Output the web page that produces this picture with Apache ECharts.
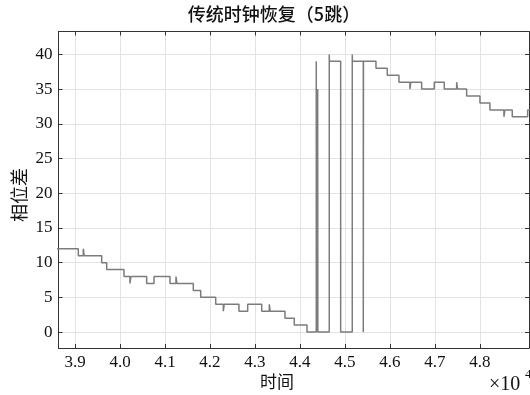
<!DOCTYPE html>
<html><head><meta charset="utf-8">
<script src="https://cdn.jsdelivr.net/npm/echarts@6/dist/echarts.min.js"></script>
<style>html,body{margin:0;padding:0;background:#fff}#c{width:530px;height:395px}</style>
</head><body><div id="c"></div>
<script>
const titleText = '传统时钟恢复（5跳）';
const xName = '时间';
const yName = '相位差';
// time in units of 10^4
const times = [3.860, 3.9073, 3.9184, 3.9204, 3.9593, 3.9704, 4.0089, 4.0222, 4.0242, 4.0593,
  4.0756, 4.1111, 4.1244, 4.1264, 4.1629, 4.1793, 4.2127, 4.2296, 4.2316, 4.2644,
  4.2838, 4.3149, 4.3318, 4.3338, 4.3667, 4.3873, 4.4156, 4.4362, 4.4366, 4.4393,
  4.4397, 4.4651, 4.4655, 4.4904, 4.5162, 4.5166, 4.5407, 4.5411, 4.5689, 4.5940,
  4.6200, 4.6444, 4.6464, 4.6704, 4.6984, 4.7207, 4.7482, 4.7502, 4.7704, 4.8000,
  4.8222, 4.8533, 4.8553, 4.8718, 4.9060, 4.920];
const values = [12, 11, 12, 11, 10, 9, 8, 7, 8, 7,
  8, 7, 8, 7, 6, 5, 4, 3, 4, 3,
  4, 3, 4, 3, 2, 1, 0, 39, 0, 35,
  0, 40, 39, 0, 40, 39, 0, 39, 38, 37,
  36, 35, 36, 35, 36, 35, 36, 35, 34, 33,
  32, 31, 32, 31, 32, 32];
const xTicks = [3.9, 4.0, 4.1, 4.2, 4.3, 4.4, 4.5, 4.6, 4.7, 4.8];
const yTicks = [0, 5, 10, 15, 20, 25, 30, 35, 40];

const xMin = 3.8633, xMax = 4.909, yMin = -2.3, yMax = 43.3;
const axisColor = '#333';
const gridColor = '#e3e3e3';
const numFont = 'Liberation Serif';
const cjkFont = 'Noto Sans CJK SC';

function xAxisBase(pos, showLabel) {
  return {
    type: 'value', position: pos, min: xMin, max: xMax,
    axisLine: {show: true, onZero: false, lineStyle: {color: axisColor, width: 1}},
    axisTick: {show: true, inside: true, length: 4, customValues: xTicks, lineStyle: {color: axisColor}},
    axisLabel: {show: showLabel, customValues: xTicks, margin: 6, color: '#111', fontFamily: numFont, fontSize: 17,
      formatter: v => v.toFixed(1)},
    splitLine: {show: showLabel, lineStyle: {color: gridColor, width: 1}}
  };
}
function yAxisBase(pos, showLabel) {
  return {
    type: 'value', position: pos, min: yMin, max: yMax,
    axisLine: {show: true, onZero: false, lineStyle: {color: axisColor, width: 1}},
    axisTick: {show: true, inside: true, length: 4, customValues: yTicks, lineStyle: {color: axisColor}},
    axisLabel: {show: showLabel, customValues: yTicks, margin: 6, color: '#111', fontFamily: numFont, fontSize: 17,
      formatter: v => String(v)},
    splitLine: {show: showLabel, lineStyle: {color: gridColor, width: 1}}
  };
}

const chart = echarts.init(document.getElementById('c'), null, {renderer: 'canvas'});
chart.setOption({
  animation: false,
  backgroundColor: '#fff',
  grid: {left: 58.5, right: 1, top: 31.5, bottom: 47, containLabel: false},
  xAxis: [xAxisBase('bottom', true), xAxisBase('top', false)],
  yAxis: [yAxisBase('left', true), yAxisBase('right', false)],
  series: [{
    type: 'line', step: 'end', showSymbol: false, symbol: 'none',
    clip: true,
    lineStyle: {color: '#7c7c7c', width: 1.5},
    data: times.map((t, i) => [t, values[i]])
  }],
  graphic: [
    {type: 'text', x: 274, y: 14, style: {text: titleText, font: '500 18px "' + cjkFont + '"', fill: '#111', align: 'center', verticalAlign: 'middle'}},
    {type: 'text', x: 277, y: 382, style: {text: xName, font: '17px "' + cjkFont + '"', fill: '#111', align: 'center', verticalAlign: 'middle'}},
    {type: 'text', x: 19, y: 195, rotation: Math.PI / 2, style: {text: yName, font: '18px "' + cjkFont + '"', fill: '#111', align: 'center', verticalAlign: 'middle'}},
    {type: 'text', x: 489, y: 385, style: {text: '×10', font: '20px "' + numFont + '"', fill: '#111', align: 'left', verticalAlign: 'middle'}},
    {type: 'text', x: 525, y: 375, style: {text: '4', font: '13px "' + numFont + '"', fill: '#111', align: 'left', verticalAlign: 'middle'}}
  ]
});
</script></body></html>
